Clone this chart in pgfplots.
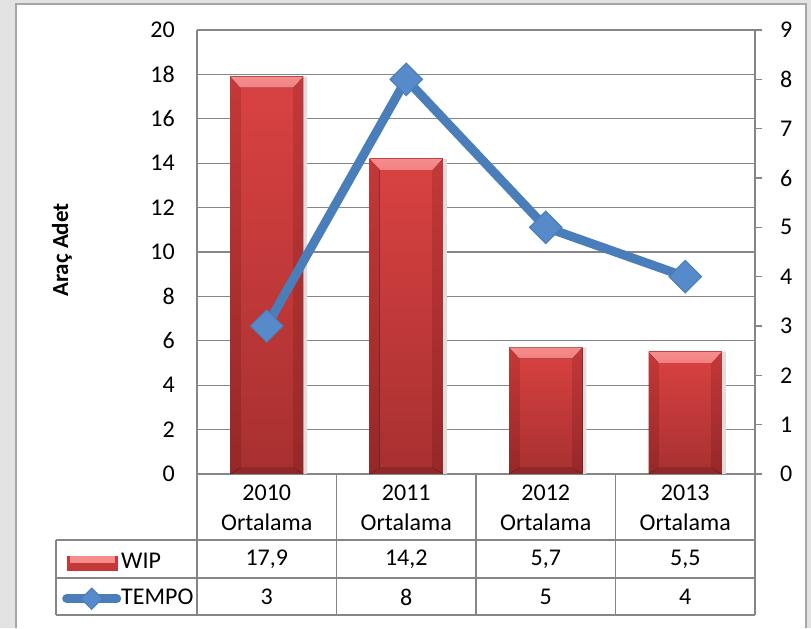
\documentclass[border=0pt]{standalone}
\usepackage{pgfplots}
\pgfplotsset{compat=1.18}
\usepackage{fontspec}
\setmainfont{Carlito}
\definecolor{barmain}{RGB}{218,66,66}
\definecolor{bardark}{RGB}{168,48,48}
\definecolor{barside}{RGB}{196,56,56}
\definecolor{barsidedark}{RGB}{150,40,40}
\definecolor{bartop}{RGB}{246,140,140}
\definecolor{tempo}{RGB}{74,126,187}
\definecolor{tempofill}{RGB}{86,138,200}
\definecolor{gridc}{RGB}{134,134,134}
\newcommand\tf{\fontsize{24}{30}\selectfont}
\tikzset{bevel/.style={path picture={
  \fill[top color=barside, bottom color=barsidedark, path picture={}] (path picture bounding box.south west) -- (path picture bounding box.north west) -- ([shift={(10pt,-11pt)}]path picture bounding box.north west) -- ([shift={(10pt,6pt)}]path picture bounding box.south west) -- cycle;
  \fill[top color=barside, bottom color=barsidedark, path picture={}] (path picture bounding box.south east) -- (path picture bounding box.north east) -- ([shift={(-10pt,-11pt)}]path picture bounding box.north east) -- ([shift={(-10pt,6pt)}]path picture bounding box.south east) -- cycle;
  \fill[top color=bartop, bottom color=bartop!85!barmain, path picture={}] (path picture bounding box.north west) -- (path picture bounding box.north east) -- ([shift={(-10pt,-11pt)}]path picture bounding box.north east) -- ([shift={(10pt,-11pt)}]path picture bounding box.north west) -- cycle;
  \fill[top color=bardark!85!black, bottom color=bardark!85!black, path picture={}] (path picture bounding box.south west) -- (path picture bounding box.south east) -- ([shift={(-10pt,6pt)}]path picture bounding box.south east) -- ([shift={(10pt,6pt)}]path picture bounding box.south west) -- cycle;
}},
redbar/.style={ybar, bar width=73pt, draw=none, top color=barmain, bottom color=bardark, bevel}}
\pgfplotsset{tempolegend/.style={legend image code/.code={\draw[##1, mark size=7.5pt, mark repeat=3, mark phase=2] plot coordinates {(0pt,0pt) (25pt,0pt) (50pt,0pt)};}},
  wiplegend/.style={legend image code/.code={\fill[barside] (0pt,-7pt) rectangle (50pt,7pt); \fill[bartop] (3pt,1pt) rectangle (47pt,7pt);}}}
\begin{document}
\begin{tikzpicture}[x=1pt,y=1pt]
\fill[gray!22] (-197,-154) rectangle (614,474);
\fill[white] (-181,-154) rectangle (609,470);
\draw[gray!70, line width=1.5pt] (-181,-154) -- (-181,470) -- (609,470) -- (609,-154);
\begin{axis}[at={(0,0)}, anchor=south west, scale only axis, width=558pt, height=444pt,
  xmin=-0.5, xmax=3.5, ymin=0, ymax=20, ytick={0,2,...,20}, xtick=\empty,
  axis x line*=bottom, axis y line*=left,
  axis line style={draw=gridc, line width=1.2pt, -},
  ymajorgrids, major grid style={draw=gridc, line width=1.2pt},
  major tick length=0pt,
  /pgf/number format/assume math mode=true,
  yticklabel style={font=\tf, inner sep=0pt, xshift=-22pt},
  clip=false]
\addplot[ybar, bar width=73pt, bar shift=4pt, draw=none, fill=black!13] coordinates {(0,17.9) (1,14.2) (2,5.7) (3,5.5)};
\addplot[redbar] coordinates {(0,17.9)};
\addplot[redbar] coordinates {(1,14.2)};
\addplot[redbar] coordinates {(2,5.7)};
\addplot[redbar] coordinates {(3,5.5)};
\end{axis}
\begin{axis}[at={(0,0)}, anchor=south west, scale only axis, width=558pt, height=444pt,
  xmin=-0.5, xmax=3.5, ymin=0, ymax=9, ytick={0,...,9}, xtick=\empty,
  axis y line*=right, axis x line=none,
  axis line style={draw=gridc, line width=1.2pt, -},
  tick style={draw=gridc, line width=1.2pt},
  major tick length=7pt, tick align=outside,
  /pgf/number format/assume math mode=true,
  yticklabel style={font=\tf, inner sep=0pt, xshift=18pt},
  clip=false,
  legend style={at={(-0.2419,-0.1712)}, anchor=north west, draw=none, fill=none, inner sep=0pt,
    font=\tf, nodes={inner xsep=0pt, inner ysep=2pt, text height=16pt, text depth=5pt}, row sep=11pt},
  legend cell align=left]
\addlegendimage{wiplegend}
\addlegendentry{WIP}
\addplot[tempo, line width=9pt, line cap=round, mark=square*, mark size=11.5pt,
  mark options={rotate=45, fill=tempofill, draw=tempo, line width=1pt}, tempolegend]
  coordinates {(0,3) (1,8) (2,5) (3,4)};
\addlegendentry{TEMPO}
\end{axis}
\node[rotate=90, font=\fontsize{23}{28}\selectfont\bfseries] at (-135,224) {Araç Adet};
\draw[gridc, line width=1.2pt] (0,0) -- (0,-141) (139.5,0) -- (139.5,-141) (279,0) -- (279,-141) (418.5,0) -- (418.5,-141) (558,0) -- (558,-141)
  (-141,-66) -- (558,-66) (-141,-104) -- (558,-104) (-141,-141) -- (558,-141) (-141,-66) -- (-141,-141);
\foreach \x/\c/\w/\t in {69.75/2010/{17,9}/3, 209.25/2011/{14,2}/8, 348.75/2012/{5,7}/5, 488.25/2013/{5,5}/4}{
  \node[align=center, font=\tf] at (\x,-34) {\c\\Ortalama};
  \node[font=\tf] at (\x,-85) {\w};
  \node[font=\tf] at (\x,-123) {\t};
}
\end{tikzpicture}
\end{document}
